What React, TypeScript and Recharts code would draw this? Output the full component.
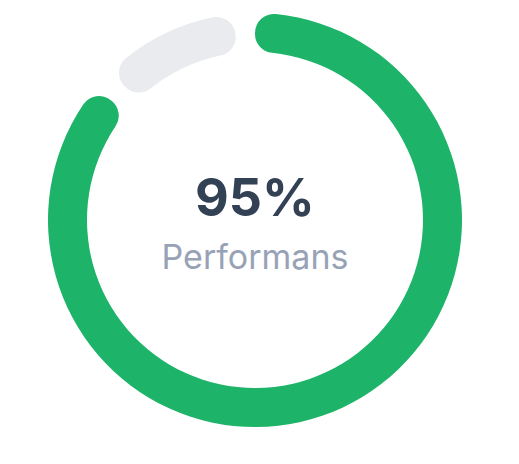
import { PieChart, Pie, Cell } from "recharts";

const segmentNames = ["Performans", "Kalan"];
const segmentValues = [89, 11];
const segmentColors = ["#1db46a", "#eaebef"];
const centerValue = "95%";
const centerLabel = "Performans";

const data = segmentNames.map((name, i) => ({ name, value: segmentValues[i] }));

export default function App() {
  return (
    <div style={{ position: "relative", width: 503, height: 448 }}>
      <PieChart width={503} height={448} margin={{ top: 0, right: 0, bottom: 0, left: 0 }}>
        <Pie
          data={data}
          dataKey="value"
          nameKey="name"
          cx={247}
          cy={212}
          innerRadius={168}
          outerRadius={207}
          startAngle={90}
          endAngle={-270}
          paddingAngle={6}
          cornerRadius={19}
          stroke="none"
          isAnimationActive={false}
        >
          {data.map((entry, i) => (
            <Cell key={entry.name} fill={segmentColors[i]} />
          ))}
        </Pie>
      </PieChart>
      <div
        style={{
          position: "absolute",
          left: 0,
          top: 0,
          width: 494,
          height: 448,
          pointerEvents: "none",
          fontFamily: "Inter, sans-serif",
          textAlign: "center",
        }}
      >
        <div
          style={{
            position: "absolute",
            left: 0,
            right: 0,
            top: 164,
            fontSize: 52,
            fontWeight: 700,
            color: "#334155",
            lineHeight: "52px",
          }}
        >
          {centerValue}
        </div>
        <div
          style={{
            position: "absolute",
            left: 0,
            right: 0,
            top: 232,
            fontSize: 34,
            fontWeight: 400,
            color: "#98a2b6",
            lineHeight: "34px",
          }}
        >
          {centerLabel}
        </div>
      </div>
    </div>
  );
}
